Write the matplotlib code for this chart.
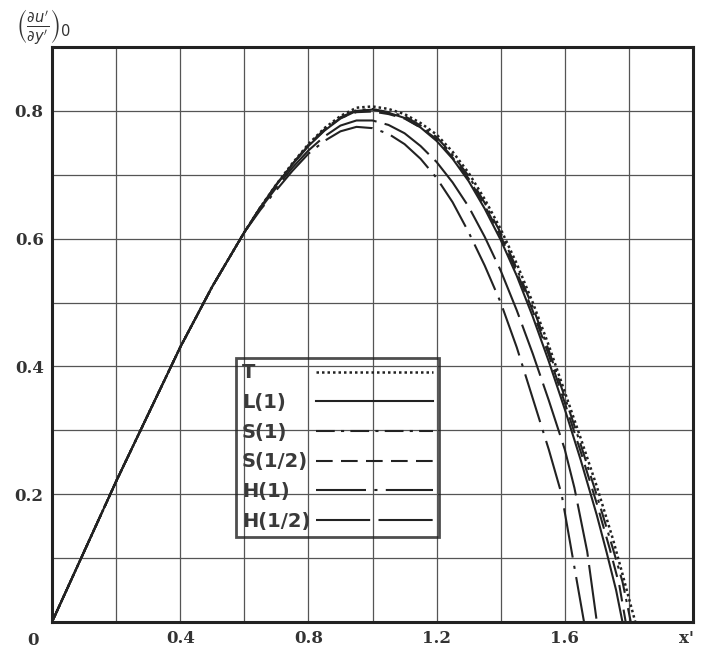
import matplotlib
matplotlib.use("Agg")
import matplotlib.pyplot as plt
from matplotlib.offsetbox import DrawingArea

# ---- data ----
x_rise = [0, 0.1, 0.2, 0.3, 0.4, 0.5, 0.6]
y_rise = [0, 0.11, 0.22, 0.325, 0.43, 0.525, 0.61]

x_T = [0.65, 0.7, 0.75, 0.8, 0.85, 0.9, 0.95, 1.0, 1.05, 1.1, 1.15, 1.2, 1.25, 1.3, 1.35, 1.4,
       1.45, 1.5, 1.55, 1.6, 1.65, 1.7, 1.75, 1.78, 1.8, 1.82]
y_T = [0.649, 0.685, 0.718, 0.748, 0.773, 0.792, 0.805, 0.807, 0.803, 0.795, 0.781, 0.763, 0.736,
       0.703, 0.662, 0.615, 0.561, 0.50, 0.433, 0.36, 0.287, 0.212, 0.13, 0.075, 0.037, 0]

x_L1 = [0.65, 0.7, 0.75, 0.8, 0.85, 0.9, 0.95, 1.0, 1.05, 1.1, 1.15, 1.2, 1.25, 1.3, 1.35, 1.4,
        1.45, 1.5, 1.55, 1.6, 1.65, 1.7, 1.73, 1.76, 1.78]
y_L1 = [0.649, 0.684, 0.716, 0.745, 0.769, 0.788, 0.800, 0.802, 0.797, 0.789, 0.774, 0.753, 0.725,
        0.690, 0.647, 0.598, 0.542, 0.478, 0.408, 0.333, 0.253, 0.167, 0.11, 0.05, 0]

x_S1 = [0.65, 0.7, 0.75, 0.8, 0.85, 0.9, 0.95, 1.0, 1.05, 1.1, 1.15, 1.2, 1.25, 1.3, 1.35, 1.4,
        1.45, 1.5, 1.55, 1.6, 1.65, 1.7, 1.75, 1.78, 1.806]
y_S1 = [0.649, 0.685, 0.717, 0.747, 0.771, 0.790, 0.801, 0.803, 0.798, 0.792, 0.777, 0.759, 0.731,
        0.698, 0.656, 0.609, 0.553, 0.493, 0.425, 0.352, 0.277, 0.198, 0.115, 0.063, 0]

x_S12 = [0.65, 0.7, 0.75, 0.8, 0.85, 0.9, 0.95, 1.0, 1.05, 1.1, 1.15, 1.2, 1.25, 1.3, 1.35, 1.4,
         1.45, 1.5, 1.55, 1.6, 1.65, 1.7, 1.74, 1.77, 1.79]
y_S12 = [0.649, 0.684, 0.716, 0.746, 0.770, 0.789, 0.798, 0.799, 0.795, 0.788, 0.774, 0.756, 0.727,
         0.694, 0.652, 0.604, 0.548, 0.487, 0.418, 0.343, 0.266, 0.185, 0.115, 0.058, 0]

x_H1 = [0.65, 0.7, 0.75, 0.8, 0.85, 0.9, 0.95, 1.0, 1.05, 1.1, 1.15, 1.2, 1.25, 1.3, 1.35, 1.4,
        1.45, 1.5, 1.55, 1.59, 1.625, 1.66]
y_H1 = [0.645, 0.676, 0.706, 0.733, 0.753, 0.768, 0.775, 0.773, 0.764, 0.748, 0.725, 0.695, 0.657,
        0.61, 0.558, 0.50, 0.43, 0.35, 0.27, 0.20, 0.10, 0]

x_H12 = [0.65, 0.7, 0.75, 0.8, 0.85, 0.9, 0.95, 1.0, 1.05, 1.1, 1.15, 1.2, 1.25, 1.3, 1.35, 1.4,
         1.45, 1.5, 1.55, 1.6, 1.63, 1.67, 1.70]
y_H12 = [0.647, 0.680, 0.711, 0.738, 0.760, 0.777, 0.785, 0.785, 0.778, 0.765, 0.745, 0.72, 0.688,
         0.65, 0.603, 0.55, 0.488, 0.42, 0.347, 0.27, 0.21, 0.11, 0]

labels = ["T", "L(1)", "S(1)", "S(1/2)", "H(1)", "H(1/2)"]
x_ticks = [0.4, 0.8, 1.2, 1.6]
x_ticklabels = ["0.4", "0.8", "1.2", "1.6"]
y_ticks = [0.2, 0.4, 0.6, 0.8]
y_ticklabels = ["0.2", "0.4", "0.6", "0.8"]

# ---- figure ----
DPI = 100
fig = plt.figure(figsize=(7.13, 6.55), dpi=DPI)
ax = fig.add_axes([52 / 713, 33 / 655, 641 / 713, 575 / 655])
ax.set_xlim(0, 2.0)
ax.set_ylim(0, 0.9)

# grid
for gx in [0.2 * i for i in range(1, 10)]:
    ax.axvline(gx, color="#555555", lw=0.9, zorder=1)
for gy in [0.1 * i for i in range(1, 9)]:
    ax.axhline(gy, color="#555555", lw=0.9, zorder=1)

col = "#222222"
styles = [(0, (1, 1.2)), "-", (0, (9, 3, 1.5, 3)), (0, (8, 4)), (0, (24, 4, 1.5, 4)), (0, (26, 4))]
series = [(x_T, y_T), (x_L1, y_L1), (x_S1, y_S1), (x_S12, y_S12), (x_H1, y_H1), (x_H12, y_H12)]
for (xs, ys), ls, lab in zip(series, styles, labels):
    lw = 1.8 if lab == "T" else 1.5
    ax.plot(x_rise + xs, y_rise + ys, color=col, lw=lw, linestyle=ls, label=lab, zorder=3)

for s in ax.spines.values():
    s.set_linewidth(2.2)
    s.set_color("#222222")

tickfont = dict(family="DejaVu Serif", weight="bold", size=12, color="#333333")
ax.set_xticks(x_ticks)
ax.set_xticklabels(x_ticklabels, fontdict=tickfont)
ax.set_yticks(y_ticks)
ax.set_yticklabels(y_ticklabels, fontdict=tickfont)
ax.tick_params(length=0, pad=6)

ax.text(-0.04, -0.015, "0", transform=ax.transData, ha="right", va="top", **tickfont)
ax.text(1.98, -0.012, "x'", transform=ax.transData, ha="center", va="top", **tickfont)
fig.text(0.022, 0.958, r"$\left(\frac{\partial u'}{\partial y'}\right)_0$", fontsize=15,
         ha="left", va="center", color="#333333")

leg = ax.legend(loc="upper left", bbox_to_anchor=(0.575, 0.414), bbox_transform=ax.transData,
                borderaxespad=0, markerfirst=False, handlelength=6.0,
                handletextpad=0.15, labelspacing=0.55, borderpad=0.3, fancybox=False,
                frameon=True, prop={"family": "DejaVu Sans", "size": 14, "weight": "bold"})
fr = leg.get_frame()
fr.set_facecolor("none")
fr.set_edgecolor("#222222")
fr.set_linewidth(2.0)
for t in leg.get_texts():
    t.set_color("#3a3a3a")

# left-align the label texts while keeping the line samples in one column
fig.canvas.draw()
renderer = fig.canvas.get_renderer()
texts = leg.get_texts()
widths = [t.get_window_extent(renderer).width for t in texts]
maxw = max(widths)
for column in leg._legend_handle_box.get_children():
    for row in column.get_children():
        kids = row.get_children()
        txtarea = kids[0]
        w = txtarea._text.get_window_extent(renderer).width
        spacer = DrawingArea((maxw - w) * 72.0 / DPI + 0.01, 1)
        kids.insert(1, spacer)

fig.savefig("out.png", dpi=DPI)
